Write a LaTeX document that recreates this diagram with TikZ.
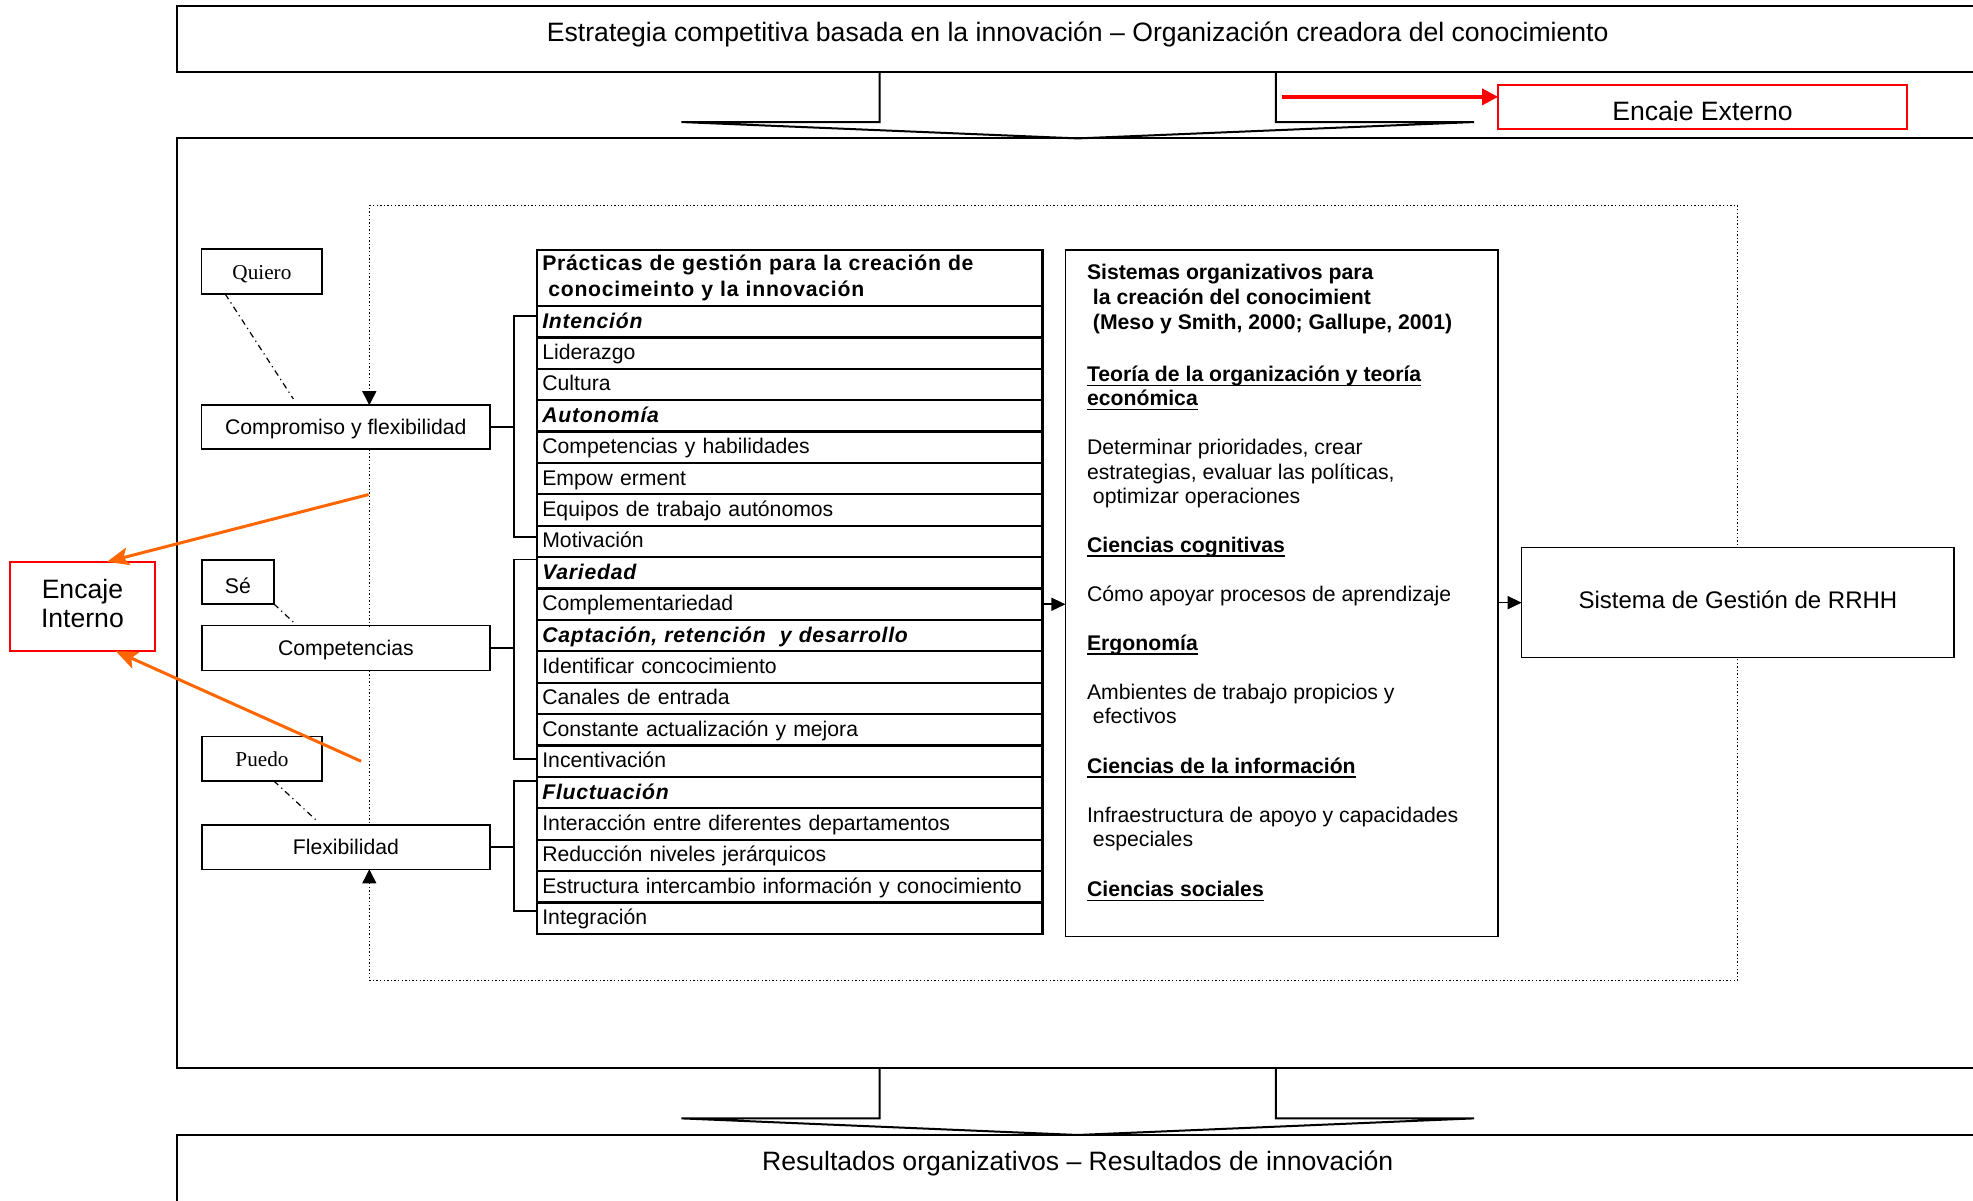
\documentclass[tikz,border=0pt]{standalone}
\usepackage{fontspec}
\setmainfont{Liberation Sans}
\newfontfamily\timesfam{Liberation Serif}
\newfontfamily\spacedfam[LetterSpace=3.5]{Liberation Sans}
\usetikzlibrary{arrows.meta,calc}

\newcommand\fsz[2]{\fontsize{#1pt}{#2pt}\selectfont}
\newsavebox\ulbox
\newcommand\ulbold[1]{\sbox\ulbox{\bfseries #1}\rlap{\rule[-2.4pt]{\wd\ulbox}{0.9pt}}\usebox\ulbox}
\newcommand\hdit[1]{{\spacedfam\bfseries\itshape #1}}
\def\u{0.6292pt}

\definecolor{encred}{RGB}{255,0,0}
\definecolor{encorange}{RGB}{255,102,0}

\begin{document}
\begin{tikzpicture}[x=0.6292pt,y=-0.6292pt,line join=miter,
  sz/.style 2 args={minimum width=#1*\u,minimum height=#2*\u},
  frame/.style={draw,line width=1pt,anchor=north west,inner sep=0pt,outer sep=0pt},
  box/.style={draw,fill=white,line width=0.75pt,anchor=north west,inner sep=0pt,outer sep=0pt,
    font=\fsz{10.6}{12.7},text height=9.1pt,text depth=1.5pt},
  serifbox/.style={box,font=\timesfam\fsz{10.6}{12.7}},
  redbox/.style={draw=encred,line width=0.8pt,anchor=north west,inner sep=0pt,outer sep=0pt},
  rowbase/.style={draw,line width=1.1pt,anchor=north west,inner xsep=4*\u,inner ysep=0pt,outer sep=0pt,
    text width=393.5*\u,align=left,font=\fsz{10.6}{12.7}},
  row/.style={rowbase,minimum height=24.95*\u,text height=8.5pt,text depth=2.1pt},
  tri/.style={-{Triangle[length=7pt,width=6.5pt]},line width=0.8pt},
  dotline/.style={line width=0.7pt,dash pattern=on 0.7pt off 1.1pt},
  dashdot/.style={line width=0.6pt,dash pattern=on 3pt off 2pt on 0.6pt off 2pt},
  brk/.style={line width=0.8pt},
  blockarrow/.style={line width=1pt},
  orangearrow/.style={draw=encorange,line width=1.5pt,-{Stealth[length=11pt,width=9pt,inset=2.5pt]}},
  redarrow/.style={draw=encred,line width=1.7pt,-{Triangle[length=8pt,width=8pt]}}
]
\useasboundingbox (0,0) rectangle (1568,953.7);
\clip (0,0) rectangle (1568,953.7);

% outer frames
\node[frame,sz={1700}{52.5}] (top) at (141,5) {};
\node[anchor=base,inner sep=0pt,font=\fsz{13.3}{16}] (toptxt) at (856.5,33)
  {Estrategia competitiva basada en la innovación – Organización creadora del conocimiento};
\node[frame,sz={1700}{739}] (main) at (141,110) {};
\node[frame,sz={1700}{100}] (bot) at (141,902) {};
\node[anchor=base,inner sep=0pt,font=\fsz{13.3}{16}] (bottxt) at (856.5,930)
  {Resultados organizativos – Resultados de innovación};

% block arrows between the frames
\draw[blockarrow] (699,57.5) -- (699,97) -- (541.5,97) -- (856.5,110) -- (1171.5,97) -- (1014,97) -- (1014,57.5);
\draw[blockarrow] (699,849) -- (699,888.8) -- (541.5,888.8) -- (856.5,902) -- (1171.5,888.8) -- (1014,888.8) -- (1014,849);

% external fit
\node[redbox,sz={325}{35}] (ee) at (1190.6,67.6) {};
\begin{scope}
  \clip (1190,60) rectangle (1516,95.8);
  \node[anchor=base,inner sep=0pt,font=\fsz{13.3}{16}] (eetxt) at (1353,95.9) {Encaje Externo};
\end{scope}
\coordinate (rs) at (1019,77);
\draw[redarrow] (rs) -- (rs -| ee.west);

% dotted feedback loop
\coordinate (dtl) at (293.5,163.5);
\coordinate (dbr) at (1381,779);

% left column
\node[serifbox,sz={95.7}{35.7}] (q) at (160.3,198) {Quiero};
\node[box,sz={229}{35}] (c1) at (160.3,322) {Compromiso y flexibilidad};
\node[box,sz={57.3}{35},text height=11.6pt,text depth=0pt] (se) at (160.4,445) {Sé};
\node[box,sz={229}{35.8}] (c2) at (160.4,497.2) {Competencias};
\node[serifbox,sz={95.6}{35.3}] (pu) at (160.4,585.4) {Puedo};
\node[box,sz={229}{35.3}] (c3) at (160.4,655.6) {Flexibilidad};

\draw[dotline,{Triangle[length=7pt,width=7pt]}-{Triangle[length=7pt,width=7pt]}]
  (c3.south -| dtl) -- (dtl |- dbr) -- (dbr) -- (dbr |- dtl) -- (dtl) -- (c1.north -| dtl);
\draw[dotline] (c1.south -| dtl) -- (c2.north -| dtl);
\draw[dotline] (c2.south -| dtl) -- (c3.north -| dtl);

\draw[dashdot] ($(q.south west)+(18.7,0)$) -- ($(c1.north west)+(72.8,-5)$);
\draw[dashdot] (se.south east) -- ($(c2.north west)+(73.8,-1.8)$);
\draw[dashdot] ($(pu.south west)+(57.3,0)$) -- ($(c3.north west)+(91.3,-3.4)$);

% internal fit
\node[redbox,sz={115}{71},align=center,font=\fsz{13.3}{14.8},text depth=3pt] (ei) at (8,446.5) {Encaje\\Interno};

% practices table
\node[rowbase,minimum height=44.5*\u] (hdr) at (427,198.7)
  {\spacedfam\bfseries Prácticas de gestión para la creación de\\\hspace*{3pt}conocimeinto y la innovación};
\foreach \rowtext [count=\i] in {
  {\hdit{Intención}},
  Liderazgo,
  Cultura,
  {\hdit{Autonomía}},
  Competencias y habilidades,
  Empow erment,
  Equipos de trabajo autónomos,
  Motivación,
  {\hdit{Variedad}},
  Complementariedad,
  {\hdit{Captación, retención\ \ y desarrollo}},
  Identificar concocimiento,
  Canales de entrada,
  Constante actualización y mejora,
  Incentivación,
  {\hdit{Fluctuación}},
  Interacción entre diferentes departamentos,
  Reducción niveles jerárquicos,
  Estructura intercambio información y conocimiento,
  Integración}
  \node[row] (row\i) at (427,{243.2+(\i-1)*24.95}) {\rowtext};

% brackets joining the left column to the table
\coordinate (bx) at (408.5,0);
\draw[brk] (c1.east) -- (c1.east -| bx);
\draw[brk] (427,251) -- (408.5,251) -- (408.5,427) -- (427,427);
\draw[brk] (c2.east) -- (c2.east -| bx);
\draw[brk] (427,444.5) -- (408.5,444.5) -- (408.5,603) -- (427,603);
\draw[brk] (c3.east) -- (c3.east -| bx);
\draw[brk] (427,620.5) -- (408.5,620.5) -- (408.5,724) -- (427,724);

% organisational systems box
\node[draw,line width=0.9pt,anchor=north west,inner sep=0pt,outer sep=0pt,sz={344}{545.5}] (sis) at (846.7,198.7) {};
\foreach \yy/\txt [count=\i] in {
  222/{\textbf{Sistemas organizativos para}},
  241.6/{\textbf{\ la creación del conocimient}},
  261.7/{\textbf{\ (Meso y Smith, 2000; Gallupe, 2001)}},
  303.3/{\ulbold{Teoría de la organización y teoría}},
  322.4/{\ulbold{económica}},
  361/{Determinar prioridades, crear},
  381/{estrategias, evaluar las políticas,},
  400/{\ optimizar operaciones},
  439/{\ulbold{Ciencias cognitivas}},
  478/{Cómo apoyar procesos de aprendizaje},
  516.6/{\ulbold{Ergonomía}},
  556.3/{Ambientes de trabajo propicios y},
  574.8/{\ efectivos},
  614.6/{\ulbold{Ciencias de la información}},
  653.8/{Infraestructura de apoyo y capacidades},
  672.9/{\ especiales},
  712.6/{\ulbold{Ciencias sociales}}}
  \node[anchor=base west,inner sep=0pt,font=\fsz{10.6}{12.7}] (sl\i) at (863.6,\yy) {\txt};

% HR management system
\node[box,sz={343.7}{87.5},font=\fsz{12}{14.4},text height=8.5pt,text depth=2.8pt] (rr) at (1209.3,435.2)
  {Sistema de Gestión de RRHH};

\draw[tri] (row10.east) -- (row10.east -| sis.west);
\draw[tri] (rr.west -| sis.east) -- (rr.west);

% arrows towards the internal fit
\coordinate (o1) at (293,393);
\coordinate (o2) at (287,605);
\draw[orangearrow] (o1) -- ($(ei.north west)+(77,0)$);
\draw[orangearrow] (o2) -- ($(ei.south west)+(84,0)$);
\end{tikzpicture}
\end{document}
